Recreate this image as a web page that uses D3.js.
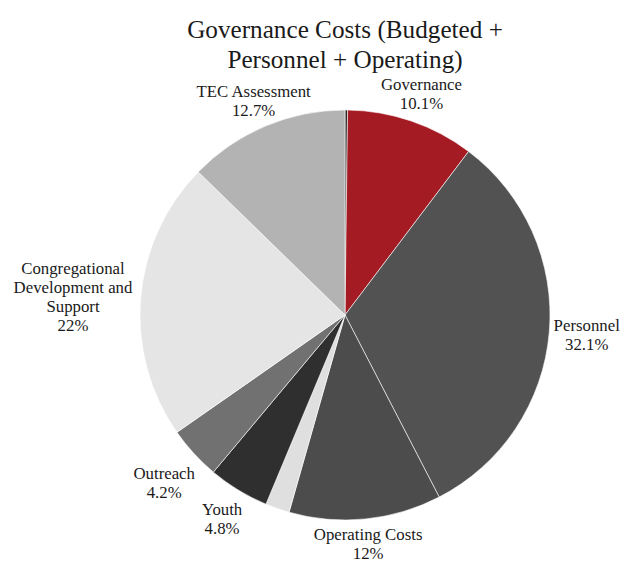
<!DOCTYPE html>
<html>
<head>
<meta charset="utf-8">
<script src="https://cdn.jsdelivr.net/npm/d3@7"></script>
<style>
  html, body { margin: 0; padding: 0; background: #fff; }
  svg { display: block; }
  text { font-family: "Liberation Serif", "DejaVu Serif", serif; fill: #1a1a1a; }
</style>
</head>
<body>
<svg id="chart" width="640" height="562"></svg>
<script>
// Budget shares, clockwise from 12 o'clock
const categories = ["Other", "Governance", "Personnel", "Operating Costs", "Misc",
                    "Youth", "Outreach", "Congregational Development and Support", "TEC Assessment"];
const shares = [0.2, 10.1, 32.1, 12, 1.9, 4.8, 4.2, 22, 12.7];
const percentLabels = ["", "10.1%", "32.1%", "12%", "", "4.8%", "4.2%", "22%", "12.7%"];
const sliceColors = ["#262626", "#a51b23", "#525252", "#4c4c4c", "#dfdfdf",
                     "#2f2f2f", "#717171", "#e5e5e5", "#b3b3b3"];
const titleLines = ["Governance Costs (Budgeted +", "Personnel + Operating)"];

const svg = d3.select("#chart");
const cx = 345, cy = 315, R = 205;

// Title
svg.append("g").selectAll("text")
  .data(titleLines)
  .join("text")
  .attr("x", cx)
  .attr("y", (d, i) => 38 + i * 30)
  .attr("text-anchor", "middle")
  .attr("font-size", 25.2)
  .text(d => d);

const data = categories.map((c, i) => ({ name: c, value: shares[i], pct: percentLabels[i], color: sliceColors[i] }));

const pie = d3.pie().sort(null).value(d => d.value);
const arc = d3.arc().innerRadius(0).outerRadius(R);
const arcs = pie(data);

const g = svg.append("g").attr("transform", `translate(${cx},${cy})`);

g.selectAll("path")
  .data(arcs)
  .join("path")
  .attr("d", arc)
  .attr("fill", d => d.data.color)
  .attr("stroke", "#ffffff")
  .attr("stroke-width", 0.6)
  .attr("stroke-linejoin", "round");

// Label placement tweaks: radial gap from rim and vertical nudge (px)
const labelLayout = {
  "Governance": { gap: -1, dy: 2 },
  "Personnel": { gap: 2, dy: -1 },
  "Operating Costs": { gap: 0, dy: 0 },
  "Youth": { gap: 3, dy: 3 },
  "Outreach": { gap: 3, dy: 3 },
  "Congregational Development and Support": { gap: 4, dy: 4 },
  "TEC Assessment": { gap: -11, dy: 2 }
};

// Labels: wrapped names plus percent, placed just outside the rim
const fontSize = 16.8, lineH = 19, maxW = 135;
const labels = g.append("g");

arcs.filter(a => a.data.pct !== "").forEach(a => {
  const t = labels.append("text")
    .attr("text-anchor", "middle")
    .attr("font-size", fontSize);

  // word wrap
  const words = a.data.name.split(" ");
  const lines = [];
  let cur = "";
  const probe = labels.append("text").attr("font-size", fontSize);
  words.forEach(w => {
    const test = cur ? cur + " " + w : w;
    probe.text(test);
    if (probe.node().getComputedTextLength() > maxW && cur) {
      lines.push(cur);
      cur = w;
    } else {
      cur = test;
    }
  });
  if (cur) lines.push(cur);
  probe.remove();
  lines.push(a.data.pct);

  lines.forEach((ln, i) => {
    t.append("tspan").attr("x", 0).attr("y", i * lineH).text(ln);
  });

  const lay = labelLayout[a.data.name] || { gap: 0, dy: 0 };
  const bb = t.node().getBBox();
  const mid = (a.startAngle + a.endAngle) / 2;
  const sx = Math.sin(mid), sy = -Math.cos(mid);
  const ext = Math.abs(sx) * bb.width / 2 + Math.abs(sy) * bb.height / 2;
  const dist = R + 1 + ext + lay.gap;
  const px = sx * dist, py = sy * dist + lay.dy;
  const ox = -(bb.x + bb.width / 2), oy = -(bb.y + bb.height / 2);
  t.attr("transform", `translate(${px + ox},${py + oy})`);
});
</script>
</body>
</html>
